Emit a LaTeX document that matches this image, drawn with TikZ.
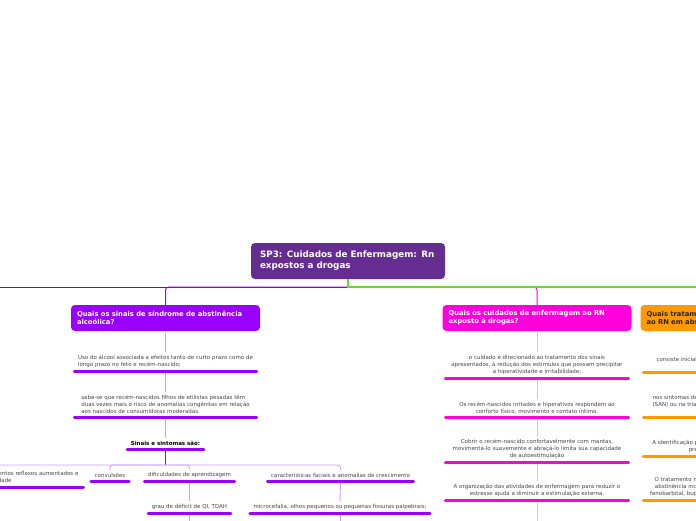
\documentclass[tikz,border=0pt]{standalone}
\usepackage{fontspec}
\setmainfont{DejaVu Sans}
\usetikzlibrary{positioning}

\definecolor{rootc}{HTML}{662D91}
\definecolor{violetc}{HTML}{9900FF}
\definecolor{pinkc}{HTML}{FF00DD}
\definecolor{orangec}{HTML}{FF9900}
\definecolor{bluec}{HTML}{3C1ADB}
\definecolor{greenc}{HTML}{66DD22}
\definecolor{leafgray}{HTML}{444444}
\definecolor{violetl}{HTML}{D39BFF}
\definecolor{pinkl}{HTML}{FFA6F2}
\definecolor{orangel}{HTML}{FFCC88}

\tikzset{
  topic/.style={rounded corners=4pt, fill=#1, text=white, font=\fontsize{6.8}{8}\selectfont\bfseries,
    align=left, minimum height=26pt, text width=177pt, inner xsep=6pt},
  leaf/.style={font=\fontsize{5.5}{7}\selectfont, text=leafgray, inner xsep=5pt, inner ysep=3pt, anchor=south},
  uline/.style={append after command={(\tikzlastnode.south west) edge[draw=#1, line width=3pt, line cap=round,
    shorten <=1.5pt, shorten >=1.5pt] (\tikzlastnode.south east)}},
  twig/.style={draw=#1, line width=0.9pt, shorten <=1.5pt},
}

\begin{document}
\begin{tikzpicture}[x=1pt, y=-1pt]
\useasboundingbox (0,0) rectangle (696,520);

% Central topic
\node[topic=rootc, font=\fontsize{8.8}{11}\selectfont\bfseries, minimum height=36pt, text width=176pt, inner xsep=9pt]
  (root) at (348,261) {SP3: Cuidados de Enfermagem: Rn\\expostos a drogas};

% Main topics
\node[topic=violetc] (q1) at (165.5,318) {Quais os sinais de síndrome de abstinência\\alcoólica?};
\node[topic=pinkc] (q2) at (537,318) {Quais os cuidados de enfermagem ao RN\\exposto à drogas?};
\node[topic=orangec, text=black!85] (q3) at (735,318) {Quais tratamentos são oferecidos\\ao RN em abstinência?};

% Trunk lines
\coordinate (hub) at (348,287);
\coordinate (westend) at (-10,287);
\coordinate (eastend) at (710,287);
\draw[bluec, line width=1pt] (hub) -- (westend);
\draw[violetc, line width=1pt, rounded corners=3pt] (hub) -| (q1.north);
\draw[pinkc, line width=1pt, rounded corners=3pt] (hub) -| (q2.north);
\draw[orangec, line width=1pt, rounded corners=3pt] (hub) -| (q3.north);
\draw[greenc, line width=1.2pt] (root.south) |- (eastend);

% Sinais de abstinencia
\node[leaf, uline=violetc, align=left, minimum width=185pt] (a1) at (165.5,371)
  {Uso do álcool associada a efeitos tanto de curto prazo como de\\longo prazo no feto e recém-nascido;};
\node[leaf, uline=violetc, align=left, minimum width=185pt] (a2) at (165.5,417)
  {sabe-se que recém-nascidos filhos de etilistas pesadas têm\\duas vezes mais o risco de anomalias congênitas em relação\\aos nascidos de consumidoras moderadas.};
\node[leaf, uline=violetc, font=\fontsize{5.5}{7}\selectfont\bfseries, text=black] (a3) at (165.5,449) {Sinais e sintomas são:};

\coordinate (fork) at (165.5,465);
\node[leaf, uline=violetc, anchor=south east, align=left, text width=170pt] (b1) at (85,487)
  {choro agudo e tremores, movimentos reflexos aumentados e\\dificuldade de sucção e irritabilidade};
\node[leaf, uline=violetc] (b2) at (110,481) {convulsões};
\node[leaf, uline=violetc] (b3) at (189.5,481) {dificuldades de aprendizagem};
\node[leaf, uline=violetc] (b4) at (340.5,481) {características faciais e anomalias de crescimento};
\node[leaf, uline=violetc] (b5) at (189.5,513) {grau de déficit de QI, TDAH};
\node[leaf, uline=violetc] (b6) at (340,513) {microcefalia, olhos pequenos ou pequenas fissuras palpebrais;};
\coordinate (b5end) at (189.5,530);
\coordinate (b6end) at (340,530);

% Cuidados de enfermagem
\node[leaf, uline=pinkc, align=center, minimum width=186pt] (p1) at (537,378)
  {o cuidado é direcionado ao tratamento dos sinais\\apresentados, à redução dos estímulos que possam precipitar\\a hiperatividade e irritabilidade;};
\node[leaf, uline=pinkc, align=center, minimum width=186pt] (p2) at (537,417)
  {Os recém-nascidos irritados e hiperativos respondem ao\\conforto físico, movimento e contato íntimo.};
\node[leaf, uline=pinkc, align=center, minimum width=186pt] (p3) at (537,462)
  {Cobrir o recém-nascido confortavelmente com mantas,\\movimentá-lo suavemente e abraçá-lo limita sua capacidade\\de autoestimulação};
\node[leaf, uline=pinkc, align=center, minimum width=186pt] (p4) at (537,500)
  {A organização das atividades de enfermagem para reduzir o\\estresse ajuda a diminuir a estimulação externa.};
\coordinate (p4end) at (537,530);

% Tratamentos
\node[leaf, uline=orangec, align=center, minimum width=186pt] (o1) at (735,372)
  {consiste inicialmente em medidas de suporte e conforto;\\ao recém-nascido};
\node[leaf, uline=orangec, align=center, minimum width=186pt] (o2) at (735,417)
  {nos sintomas de síndrome de abstinência neonatal do bebê\\(SAN) ou na triagem toxicológica positiva do recém-nascido\\e da mãe.};
\node[leaf, uline=orangec, align=center, minimum width=186pt] (o3) at (735,456)
  {A identificação precoce da síndrome de abstinência permite\\prevenir complicações neonatais.};
\node[leaf, uline=orangec, align=center, minimum width=186pt] (o4) at (735,500)
  {O tratamento medicamentoso para os recém-nascidos em\\abstinência inclui morfina, metadona e, como adjuvantes,\\fenobarbital, buprenorfina e clonidina, conforme a gravidade.};
\coordinate (o4end) at (735,530);

% Connections
\foreach \a/\b in {q1/a1, a1/a2, a2/a3, b3/b5, b4/b6, b5/b5end, b6/b6end} {
    \draw[twig=violetl] (\a.south) -- (\b.north);
}
\draw[violetc, line width=0.9pt] (a3.south) -- (fork);
\foreach \n in {b1, b2, b3, b4} {
    \draw[violetl, line width=0.9pt, rounded corners=3pt] (\n.north) |- (fork);
}
\foreach \a/\b in {q2/p1, p1/p2, p2/p3, p3/p4, p4/p4end} {
    \draw[twig=pinkl] (\a.south) -- (\b.north);
}
\foreach \a/\b in {q3/o1, o1/o2, o2/o3, o3/o4, o4/o4end} {
    \draw[twig=orangel] (\a.south) -- (\b.north);
}

\end{tikzpicture}
\end{document}
